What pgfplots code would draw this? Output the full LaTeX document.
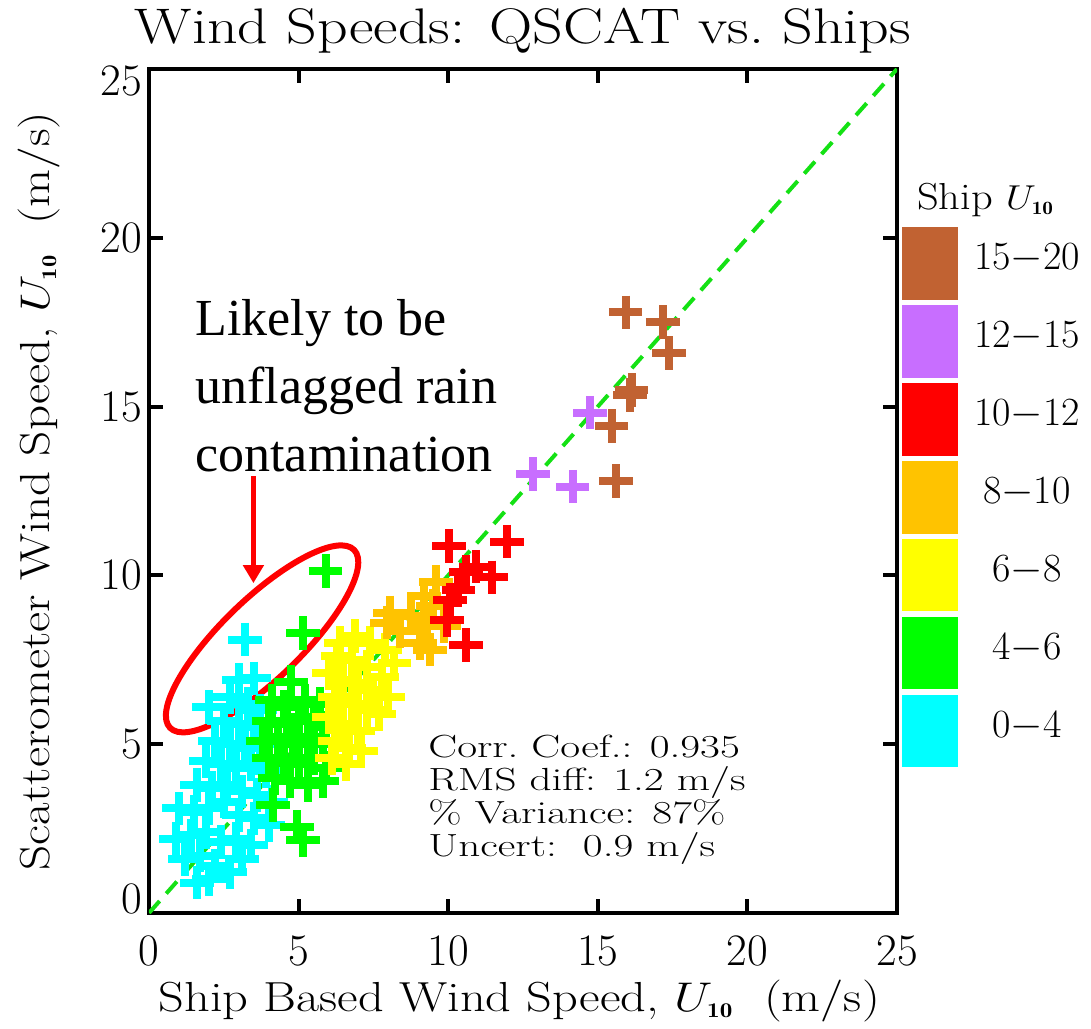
\documentclass[border=0pt]{standalone}
\usepackage{fontspec}
\usepackage{graphicx}
\usepackage{pgfplots}
\usepackage{pgfplotstable}
\pgfplotsset{compat=1.18}
\usetikzlibrary{shapes.geometric, arrows.meta}
\newfontfamily\annfont{Liberation Serif}

\definecolor{cBrown}{RGB}{193,98,50}
\definecolor{cPurple}{RGB}{200,110,255}
\definecolor{cRed}{RGB}{255,0,0}
\definecolor{cOrange}{RGB}{255,195,0}
\definecolor{cYellow}{RGB}{255,255,0}
\definecolor{cGreen}{RGB}{0,255,0}
\definecolor{cCyan}{RGB}{0,255,255}
\definecolor{cFit}{RGB}{20,225,20}

\newcommand{\Uten}{$U_{\scriptscriptstyle\mathbf{10}}$}

% Ship U10 0-4 m/s
\pgfplotstableread{
x y
3.2 8.1
3.0 6.9
3.5 6.95
2.0 6.1
2.7 6.4
3.3 6.2
3.7 6.0
2.5 5.7
3.0 5.6
3.5 5.5
2.2 5.1
2.7 5.0
3.2 4.9
3.7 5.0
1.9 4.5
2.4 4.4
2.9 4.3
3.4 4.4
3.9 4.2
1.6 3.8
2.1 3.7
2.6 3.8
3.1 3.6
3.6 3.5
4.1 3.3
1.0 3.1
1.5 3.0
2.0 3.1
2.5 3.3
3.0 2.9
3.5 2.8
4.0 2.6
0.9 2.2
1.4 2.3
1.9 2.4
2.4 2.1
2.9 2.2
3.4 2.0
1.2 1.6
1.7 1.7
2.2 1.4
2.7 1.2
3.1 1.6
1.6 0.9
2.0 1.0
}\cyanpts

% Ship U10 4-6 m/s
\pgfplotstableread{
x y
5.9 10.13
5.15 8.29
4.75 6.85
4.1 6.3
4.5 6.1
5.2 6.3
5.7 6.2
4.0 5.7
4.6 5.6
5.0 5.8
5.5 5.7
5.9 5.5
3.8 5.1
4.3 5.2
4.8 5.0
5.3 5.2
5.8 5.0
4.0 4.6
4.5 4.5
5.0 4.4
5.5 4.6
5.9 4.3
4.2 4.0
4.7 3.9
5.3 3.8
5.8 3.9
4.14 3.2
4.95 2.55
5.15 2.16
}\greenpts

% Ship U10 6-8 m/s
\pgfplotstableread{
x y
6.9 8.2
6.4 8.0
7.4 8.0
7.9 7.8
8.2 7.4
6.3 7.6
6.8 7.5
7.3 7.3
7.8 7.0
6.0 7.1
6.5 6.9
7.0 6.8
7.5 6.6
8.0 6.4
6.2 6.4
6.8 6.2
7.3 6.0
7.7 5.9
6.0 5.8
6.5 5.6
7.0 5.4
6.2 5.1
6.7 4.9
7.1 4.8
6.1 4.6
6.6 4.4
}\yellowpts

% Ship U10 8-10 m/s
\pgfplotstableread{
x y
7.95 8.6
8.4 8.35
8.05 8.9
8.75 8.8
9.2 9.4
9.6 9.8
9.3 8.6
9.05 8.0
9.4 7.8
9.85 8.5
9.5 9.1
}\orangepts

% Ship U10 10-12 m/s
\pgfplotstableread{
x y
10.03 10.87
11.96 11.00
10.93 10.26
11.45 9.94
10.59 10.11
10.34 9.57
10.06 9.27
9.95 8.68
10.59 7.94
}\redpts

% Ship U10 12-15 m/s
\pgfplotstableread{
x y
14.74 14.82
12.84 13.00
14.16 12.63
}\purplepts

% Ship U10 15-20 m/s
\pgfplotstableread{
x y
15.93 17.79
17.17 17.50
17.37 16.58
16.13 15.49
16.08 15.34
15.46 14.43
15.60 12.80
}\brownpts

\begin{document}
\begin{tikzpicture}
\path[use as bounding box] (-74.5pt,-57.5pt) rectangle (471pt,456.5pt);
\begin{axis}[
  at={(0,0)}, anchor=south west,
  scale only axis, width=374pt, height=422pt,
  xmin=0, xmax=25, ymin=0, ymax=25,
  xtick={0,5,...,25}, ytick={0,5,...,25},
  tick align=inside, major tick length=7pt,
  tick style={black, line width=2pt},
  axis line style={line width=2pt},
  /pgf/number format/assume math mode=true,
  ticklabel style={font=\fontsize{22.5}{27}\selectfont},
  xticklabel style={yshift=-8pt},
  yticklabel={\ifnum\ticknum=0 \raisebox{7pt}[\height][\depth]{0}\else\ifnum\ticknum=5 \raisebox{-6pt}[\height][\depth]{25}\else\pgfmathprintnumber{\tick}\fi\fi},
  title={\scalebox{1.2}[1]{Wind Speeds: QSCAT vs.\ Ships}},
  title style={at={(0.5,1)}, anchor=base, inner sep=0pt, yshift=6.5pt, font=\fontsize{25}{30}\selectfont},
  xlabel={\scalebox{1.2}[1]{Ship Based Wind Speed, \Uten\ \ (m/s)}},
  xlabel style={at={(axis description cs:0.495,0)}, anchor=base, inner sep=0pt, yshift=-49pt, font=\fontsize{21}{25}\selectfont},
  ylabel={\scalebox{1.17}[1]{Scatterometer Wind Speed, \Uten\ \ (m/s)}},
  ylabel style={at={(axis description cs:-0.1324,0.5)}, anchor=base, inner sep=0pt, font=\fontsize{21}{25}\selectfont},
]
\addplot[only marks, mark=+, mark size=8.4pt, line width=4pt, color=cCyan] table {\cyanpts};
\addplot[only marks, mark=+, mark size=8.4pt, line width=4pt, color=cGreen] table {\greenpts};
\addplot[only marks, mark=+, mark size=8.4pt, line width=4pt, color=cYellow] table {\yellowpts};
\addplot[only marks, mark=+, mark size=8.4pt, line width=4pt, color=cOrange] table {\orangepts};
\addplot[only marks, mark=+, mark size=8.4pt, line width=4pt, color=cRed] table {\redpts};
\addplot[only marks, mark=+, mark size=8.4pt, line width=4pt, color=cPurple] table {\purplepts};
\addplot[only marks, mark=+, mark size=8.4pt, line width=4pt, color=cBrown] table {\brownpts};
% one-to-one reference line
\addplot[cFit, line width=2pt, dash pattern=on 8pt off 5pt] coordinates {(0,0) (25,25)};
% suspected rain-contaminated retrievals
\node[draw=red, line width=3pt, ellipse, inner sep=0pt, minimum width=128pt, minimum height=40pt, rotate=44] at (axis cs:3.78,8.12) {};
\draw[red, line width=2.5pt, -{Triangle[length=9pt, width=10pt]}] (axis cs:3.49,12.94) -- (axis cs:3.49,9.77);
\end{axis}

% annotation
\node[anchor=base west, inner sep=0pt, font=\annfont\fontsize{26}{30}\selectfont] at (23pt,288.5pt) {Likely to be};
\node[anchor=base west, inner sep=0pt, font=\annfont\fontsize{26}{30}\selectfont] at (23pt,254.5pt) {unflagged rain};
\node[anchor=base west, inner sep=0pt, font=\annfont\fontsize{26}{30}\selectfont] at (23pt,220.5pt) {contamination};

% statistics
\begin{scope}[every node/.style={anchor=base west, inner sep=0pt, font=\fontsize{16}{19}\selectfont}]
\node at (139.5pt,78pt) {\scalebox{1.35}[1]{Corr.\ Coef.: 0.935}};
\node at (139.5pt,61.5pt) {\scalebox{1.35}[1]{RMS diff: 1.2 m/s}};
\node at (139.5pt,45pt) {\scalebox{1.35}[1]{\% Variance: 87\%}};
\node at (139.5pt,28.5pt) {\scalebox{1.35}[1]{Uncert:\ \ 0.9 m/s}};
\end{scope}

% colour key
\node[anchor=base west, inner sep=0pt, font=\fontsize{18.8}{22}\selectfont] at (383.9pt,351.75pt) {\scalebox{1.13}[1]{Ship \Uten}};
\foreach \c/\lab [count=\i from 0] in {cBrown/15$-$20, cPurple/12$-$15, cRed/10$-$12, cOrange/8$-$10, cYellow/6$-$8, cGreen/4$-$6, cCyan/0$-$4} {
  \pgfmathsetmacro\yt{342.8-38.95*\i}
  \fill[\c] (376.5pt,\yt pt) rectangle (404.5pt,\yt pt-36.25pt);
  \node[anchor=base, inner sep=0pt, font=\fontsize{20}{24}\selectfont] at (439pt,\yt pt-21.2pt) {\lab};
}
\end{tikzpicture}
\end{document}
